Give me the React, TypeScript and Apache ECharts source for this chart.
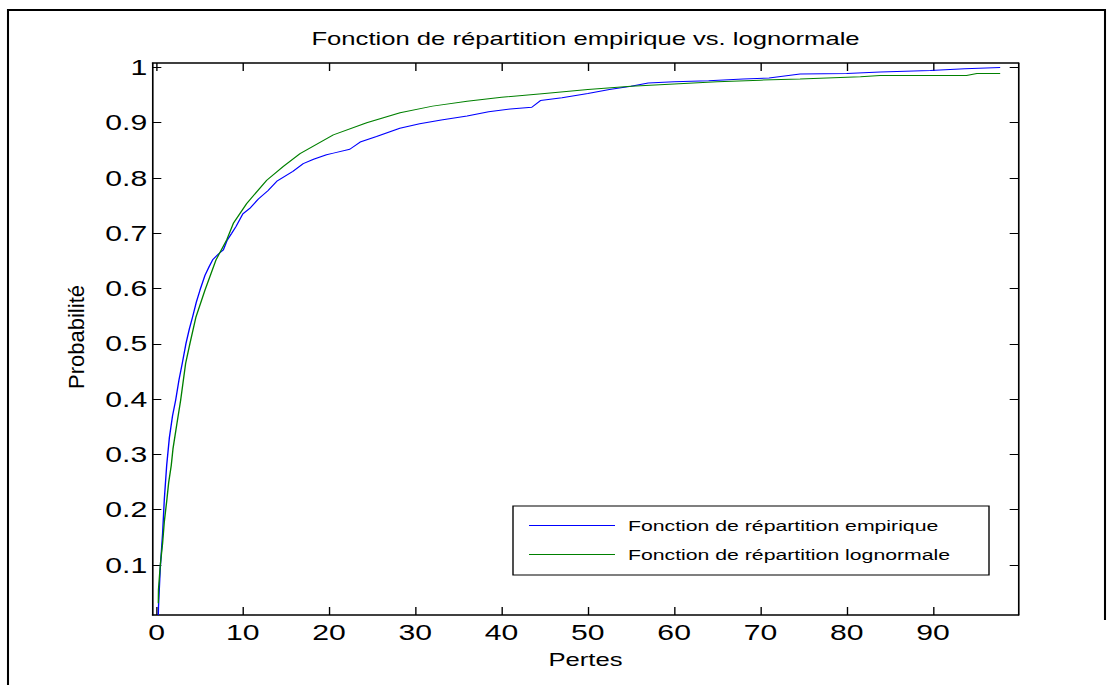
import React, { useEffect, useRef } from "react";
import * as echarts from "echarts";

// ---- data ----
const empiriqueX = [0.2, 0.22, 0.43, 0.7, 0.9, 1.17, 1.48, 1.85, 2.21, 2.6, 2.98, 3.41, 3.8, 4.18, 4.6, 5.03, 5.61, 6.1, 6.5, 7.2, 7.74, 8.2, 8.71, 9.2, 10.0, 10.8, 11.8, 12.9, 14.0, 15.8, 17.0, 18.2, 19.7, 20.5, 22.4, 23.6, 25.5, 28.2, 30.5, 33, 36, 38.5, 41, 43.5, 44.5, 47, 50, 52.5, 55, 57, 60, 64, 68, 71, 74.6, 80, 83.9, 89.7, 93.7, 97.8];
const empiriqueY = [0.0096, 0.024, 0.095, 0.158, 0.22, 0.28, 0.33, 0.37, 0.398, 0.435, 0.465, 0.501, 0.527, 0.549, 0.575, 0.597, 0.624, 0.64, 0.652, 0.663, 0.67, 0.688, 0.7, 0.712, 0.735, 0.745, 0.762, 0.777, 0.795, 0.812, 0.826, 0.834, 0.842, 0.845, 0.852, 0.865, 0.875, 0.89, 0.898, 0.905, 0.912, 0.92, 0.925, 0.928, 0.94, 0.945, 0.953, 0.96, 0.966, 0.972, 0.974, 0.976, 0.979, 0.981, 0.988, 0.989, 0.9915, 0.9946, 0.9975, 1.0];

const lognormaleX = [0.2, 0.22, 0.43, 0.7, 0.9, 1.17, 1.4, 1.7, 1.9, 2.35, 2.79, 3.37, 3.87, 4.57, 5.61, 6.89, 8.13, 8.9, 10.45, 12.77, 14.7, 16.63, 20.49, 24.36, 28.23, 32, 36, 40, 45, 50, 55, 60, 65, 70, 74.6, 81.6, 83.9, 93.9, 95.1, 97.8];
const lognormaleY = [0.031, 0.055, 0.1, 0.14, 0.179, 0.215, 0.249, 0.28, 0.31, 0.355, 0.398, 0.465, 0.501, 0.549, 0.597, 0.652, 0.688, 0.718, 0.754, 0.796, 0.821, 0.844, 0.878, 0.9, 0.918, 0.93, 0.939, 0.946, 0.953, 0.96, 0.966, 0.97, 0.974, 0.977, 0.979, 0.983, 0.9855, 0.9855, 0.989, 0.989];

const xTicks = [0, 10, 20, 30, 40, 50, 60, 70, 80, 90];
const yTicks = [0.1, 0.2, 0.3, 0.4, 0.5, 0.6, 0.7, 0.8, 0.9, 1];

const TITLE = "Fonction de répartition empirique vs. lognormale";
const X_NAME = "Pertes";
const Y_NAME = "Probabilité";
const NAME_EMP = "Fonction de répartition empirique";
const NAME_LOG = "Fonction de répartition lognormale";

const FONT = "'Liberation Sans', Arial, Helvetica, sans-serif";
const W = 1114;
const H = 685;
const INNER_W = 813;
const S = W / INNER_W; // horizontal stretch of the reference rendering
const px = (v: number) => v / S;

export default function App() {
  const ref = useRef<HTMLDivElement>(null);

  useEffect(() => {
    if (!ref.current) return;
    const chart = echarts.init(ref.current, undefined, { renderer: "svg" });

    const emp = empiriqueX.map((x, i) => [x, empiriqueY[i]]);
    const logn = lognormaleX.map((x, i) => [x, lognormaleY[i]]);

    const xMin = -0.45, xMax = 99.9;
    const yMin = 0.0096, yMax = 1.008;

    const gridLeft = px(152.7);
    const gridRight = px(1018.3);

    const axisLineStyle = { color: "#000", width: 1.5 };

    chart.setOption({
      animation: false,
      backgroundColor: "#fff",
      title: {
        text: TITLE,
        left: px(585.5),
        top: 29,
        textAlign: "center",
        padding: 0,
        textStyle: { fontFamily: FONT, fontSize: 18.7, fontWeight: "normal", color: "#000" },
      },
      grid: { left: gridLeft, top: 63, width: gridRight - gridLeft, height: 552, containLabel: false },
      legend: {
        orient: "vertical",
        left: px(529),
        top: 517,
        padding: 0,
        icon: "rect",
        itemWidth: px(615 - 529),
        itemHeight: 1,
        itemGap: 12,
        data: [NAME_EMP, NAME_LOG],
        textStyle: { fontFamily: FONT, fontSize: 15.5, lineHeight: 17, color: "#000", padding: [0, 0, 0, 4.5] },
        z: 10,
      },
      xAxis: [
        {
          type: "value",
          min: xMin,
          max: xMax,
          position: "bottom",
          axisLine: { show: true, onZero: false, lineStyle: axisLineStyle },
          axisTick: { show: true, inside: true, length: 8, customValues: xTicks, lineStyle: { color: "#000", width: 1 } },
          axisLabel: { show: true, customValues: xTicks, margin: 6.5, fontSize: 22, fontFamily: FONT, color: "#000" },
          splitLine: { show: false },
          name: X_NAME,
          nameLocation: "middle",
          nameGap: 35,
          nameTextStyle: { fontFamily: FONT, fontSize: 18.7, color: "#000" },
        },
        {
          type: "value",
          min: xMin,
          max: xMax,
          position: "top",
          axisLine: { show: true, onZero: false, lineStyle: axisLineStyle },
          axisTick: { show: true, inside: true, length: 8, customValues: xTicks, lineStyle: { color: "#000", width: 1 } },
          axisLabel: { show: false },
          splitLine: { show: false },
        },
      ],
      yAxis: [
        {
          type: "value",
          min: yMin,
          max: yMax,
          position: "left",
          axisLine: { show: true, onZero: false, lineStyle: { color: "#000", width: 1.2 } },
          axisTick: { show: true, inside: true, length: 6.3, customValues: yTicks, lineStyle: { color: "#000", width: 1 } },
          axisLabel: {
            show: true,
            customValues: yTicks,
            margin: 4,
            fontSize: 22,
            fontFamily: FONT,
            color: "#000",
            formatter: (v: number) => (Math.abs(v - 1) < 1e-9 ? "1" : v.toFixed(1)),
          },
          splitLine: { show: false },
        },
        {
          type: "value",
          min: yMin,
          max: yMax,
          position: "right",
          axisLine: { show: true, onZero: false, lineStyle: { color: "#000", width: 1.2 } },
          axisTick: { show: true, inside: true, length: 6.3, customValues: yTicks, lineStyle: { color: "#000", width: 1 } },
          axisLabel: { show: false },
          splitLine: { show: false },
        },
      ],
      graphic: [
        { type: "line", shape: { x1: px(7), y1: 10, x2: px(1106), y2: 10 }, style: { stroke: "#000", lineWidth: 2 } },
        { type: "line", shape: { x1: px(8), y1: 9, x2: px(8), y2: H }, style: { stroke: "#000", lineWidth: 1.5 } },
        { type: "line", shape: { x1: px(1105), y1: 9, x2: px(1105), y2: 620 }, style: { stroke: "#000", lineWidth: 1.5 } },
        {
          type: "rect",
          shape: { x: px(513), y: 506, width: px(989 - 513), height: 69 },
          style: { fill: "#fff", stroke: "#000", lineWidth: 1 },
          z: 5,
        },
        {
          type: "text",
          x: px(76.7),
          y: 337,
          rotation: Math.PI / 2,
          scaleY: 1 / S,
          style: {
            text: Y_NAME,
            fontSize: 22,
            fontFamily: FONT,
            fill: "#000",
            textAlign: "center",
            textVerticalAlign: "middle",
            align: "center",
            verticalAlign: "middle",
          },
        },
      ],
      series: [
        {
          type: "line",
          name: NAME_EMP,
          data: emp,
          symbol: "none",
          xAxisIndex: 0,
          yAxisIndex: 0,
          color: "#0000ff",
          lineStyle: { color: "#0000ff", width: 1 },
          itemStyle: { color: "#0000ff" },
        },
        {
          type: "line",
          name: NAME_LOG,
          data: logn,
          symbol: "none",
          xAxisIndex: 0,
          yAxisIndex: 0,
          color: "#008000",
          lineStyle: { color: "#008000", width: 1 },
          itemStyle: { color: "#008000" },
        },
      ],
    });

    return () => chart.dispose();
  }, []);

  return (
    <div style={{ position: "fixed", left: 0, top: 0, width: W, height: H, overflow: "hidden", background: "#fff" }}>
      <div
        ref={ref}
        style={{ width: INNER_W, height: H, transform: `scaleX(${S})`, transformOrigin: "0 0" }}
      />
    </div>
  );
}
